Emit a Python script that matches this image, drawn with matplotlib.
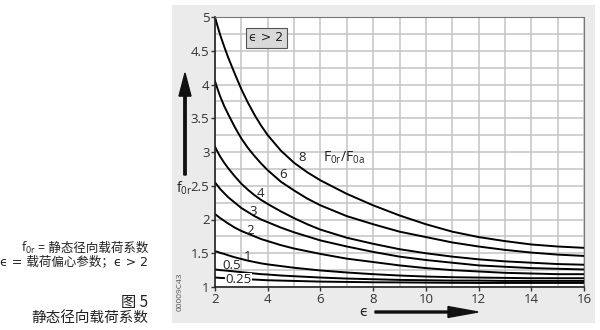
import numpy as np
import matplotlib
matplotlib.use("Agg")
from matplotlib import pyplot as plt
from matplotlib.patches import FancyArrow, Rectangle

plt.rcParams['font.family'] = ['Open Sans', 'Noto Sans CJK SC', 'DejaVu Sans']

# eccentricity values
eps = [2, 2.1, 2.2, 2.35, 2.5, 2.75, 3, 3.25, 3.5, 3.75, 4, 4.5, 5, 5.5, 6,
       7, 8, 9, 10, 11, 12, 13, 14, 15, 16]

# f0r per load ratio F0r/F0a
f_8 = [5.00, 4.86, 4.73, 4.56, 4.40, 4.16, 3.93, 3.73, 3.55, 3.39, 3.25, 3.02, 2.84, 2.70, 2.58,
       2.38, 2.21, 2.06, 1.93, 1.82, 1.74, 1.68, 1.63, 1.60, 1.58]
f_6 = [4.05, 3.93, 3.82, 3.68, 3.56, 3.37, 3.20, 3.06, 2.94, 2.83, 2.73, 2.56, 2.43, 2.31, 2.21,
       2.05, 1.93, 1.82, 1.74, 1.66, 1.60, 1.55, 1.51, 1.48, 1.46]
f_4 = [3.08, 3.00, 2.93, 2.84, 2.76, 2.64, 2.53, 2.44, 2.36, 2.29, 2.23, 2.12, 2.02, 1.93, 1.85,
       1.73, 1.64, 1.56, 1.50, 1.45, 1.41, 1.38, 1.36, 1.34, 1.33]
f_3 = [2.55, 2.50, 2.45, 2.39, 2.33, 2.25, 2.17, 2.11, 2.05, 2.00, 1.96, 1.88, 1.81, 1.75, 1.69,
       1.60, 1.52, 1.45, 1.40, 1.36, 1.32, 1.30, 1.28, 1.27, 1.26]
f_2 = [2.08, 2.05, 2.02, 1.98, 1.94, 1.88, 1.83, 1.79, 1.75, 1.71, 1.68, 1.62, 1.57, 1.53, 1.49,
       1.42, 1.37, 1.32, 1.28, 1.25, 1.23, 1.21, 1.20, 1.19, 1.19]
f_1 = [1.53, 1.52, 1.505, 1.49, 1.47, 1.44, 1.415, 1.39, 1.37, 1.35, 1.335, 1.31, 1.285, 1.265, 1.245,
       1.215, 1.19, 1.17, 1.155, 1.145, 1.14, 1.135, 1.13, 1.13, 1.13]
f_05 = [1.26, 1.255, 1.25, 1.245, 1.24, 1.23, 1.22, 1.21, 1.20, 1.19, 1.185, 1.17, 1.16, 1.15, 1.14,
        1.125, 1.115, 1.105, 1.10, 1.095, 1.095, 1.09, 1.09, 1.09, 1.09]
f_025 = [1.14, 1.138, 1.135, 1.132, 1.13, 1.125, 1.12, 1.115, 1.11, 1.105, 1.10, 1.095, 1.09, 1.085, 1.08,
         1.075, 1.07, 1.068, 1.065, 1.062, 1.06, 1.06, 1.06, 1.06, 1.06]

curves = [f_8, f_6, f_4, f_3, f_2, f_1, f_05, f_025]

# curve labels: text, eps, f0r
labels = [("8", 5.3, 2.92), ("6", 4.6, 2.66), ("4", 3.72, 2.38), ("3", 3.45, 2.12),
          ("2", 3.35, 1.83), ("1", 3.25, 1.45), ("0.5", 2.65, 1.32)]

xticks = [2, 4, 6, 8, 10, 12, 14, 16]
yticks = [1, 1.5, 2, 2.5, 3, 3.5, 4, 4.5, 5]
ytick_labels = ["1", "1.5", "2", "2.5", "3", "3.5", "4", "4.5", "5"]

W, H = 600, 330


def fx(px):
    return px / W


def fy(py):
    return 1 - py / H


fig = plt.figure(figsize=(6, 3.3), dpi=100)
fig.patch.set_facecolor("white")

# gray panel behind the chart
panel = Rectangle((fx(172), fy(323)), (595 - 172) / W, (323 - 5) / H,
                  transform=fig.transFigure, facecolor="#ebebeb", edgecolor="none", zorder=-5)
fig.patches.append(panel)

ax = fig.add_axes([fx(215), fy(287), (584 - 215) / W, (287 - 17) / H])
ax.set_facecolor("white")
ax.set_xlim(2, 16)
ax.set_ylim(1, 5)
ax.set_xticks(xticks)
ax.set_xticks(np.arange(3, 16, 2), minor=True)
ax.set_yticks(yticks)
ax.set_yticks(np.arange(1.25, 5, 0.5), minor=True)
ax.grid(True, which="both", color="#c4c4c4", linewidth=1.1)
ax.set_axisbelow(True)
ax.set_xticklabels([str(t) for t in xticks])
ax.set_yticklabels(ytick_labels)
ax.tick_params(which="major", length=3, width=1, color="#333333", labelsize=9.5,
               labelcolor="#333333", pad=1)
ax.tick_params(which="minor", length=0)

for side in ["top", "right"]:
    ax.spines[side].set_color("#777777")
for side in ["left", "bottom"]:
    ax.spines[side].set_color("#222222")
    ax.spines[side].set_linewidth(1.2)

for f in curves:
    ax.plot(eps, f, color="black", linewidth=1.4, solid_joinstyle="round")

for txt, x, y in labels:
    ax.text(x, y, txt, fontsize=9.5, color="#222222", ha="center", va="center")
ax.text(2.9, 1.11, "0.25", fontsize=9.5, color="#222222", ha="center", va="center",
        bbox=dict(facecolor="white", edgecolor="none", pad=0.3))

# ratio caption F0r/F0a
ax.text(6.1, 2.91, r"$\mathregular{F_{0r}/F_{0a}}$", fontsize=10, color="#222222",
        ha="left", va="center")

ax.text(3.3, 4.69, "ϵ > 2", fontsize=9, color="#222222", ha="left", va="center",
        family=['DejaVu Sans'],
        bbox=dict(facecolor="#d9d9d9", edgecolor="#555555", linewidth=0.8,
                  boxstyle="square,pad=0.3"))

# axis arrows and names
fig.patches.append(FancyArrow(fx(185), fy(175), 0, (175 - 73) / H,
                              width=0.004, head_width=0.02, head_length=0.07,
                              length_includes_head=True, transform=fig.transFigure,
                              color="#111111"))
fig.text(fx(176), fy(188), r"$\mathregular{f_{0r}}$", fontsize=10, color="#222222",
         ha="left", va="center")

fig.patches.append(FancyArrow(fx(375), fy(312), (478 - 375) / W, 0,
                              width=0.006, head_width=0.033, head_length=0.05,
                              length_includes_head=True, transform=fig.transFigure,
                              color="#111111"))
fig.text(fx(363), fy(312), "ϵ", fontsize=10, color="#222222", ha="center", va="center",
         family=['DejaVu Sans'])

fig.text(fx(180), fy(292), "00009C43", fontsize=6, color="#555555", rotation=90,
         ha="center", va="center")

# notes on the left
row1 = fig.text(fx(148), fy(248), "= 静态径向载荷系数", fontsize=9, color="#222222",
                ha="right", va="center")
fig.text(fx(148), fy(262), "ϵ = 载荷偏心参数；ϵ > 2", fontsize=9, color="#222222",
         ha="right", va="center", family=['DejaVu Sans', 'Noto Sans CJK SC'])
fig.text(fx(148), fy(302), "图 5", fontsize=11, color="#222222", ha="right", va="center",
         style="italic", family=['Noto Sans CJK SC', 'DejaVu Sans'])
fig.text(fx(148), fy(318), "静态径向载荷系数", fontsize=10.5, color="#222222",
         ha="right", va="center", family=['Noto Sans CJK SC', 'DejaVu Sans'])

# place f0r in front of the first note line
fig.canvas.draw()
x0 = row1.get_window_extent().x0
fig.text((x0 - 2) / W, fy(248), r"$\mathregular{f_{0r}}$", fontsize=9, color="#222222",
         ha="right", va="center")

fig.savefig("out.png", dpi=100, facecolor="white")
